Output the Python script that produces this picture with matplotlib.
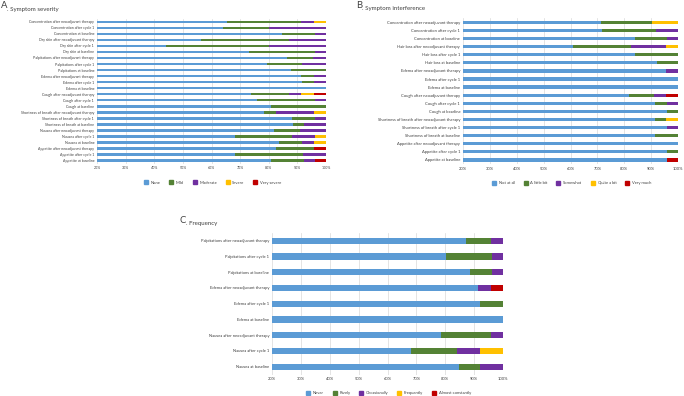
import matplotlib
matplotlib.use("Agg")
import matplotlib.pyplot as plt
from matplotlib.lines import Line2D
import numpy as np

plt.rcParams['font.family'] = ['Lato', 'DejaVu Sans']

# -----------------------------
# DATA (percent of patients per answer)
# -----------------------------
colors = ['#5B9BD5', '#548235', '#7030A0', '#FFC000', '#C00000']

sev_labels = [
    "Concentration after neoadjuvant therapy", "Concentration after cycle 1", "Concentration at baseline",
    "Dry skin after neoadjuvant therapy", "Dry skin after cycle 1", "Dry skin at baseline",
    "Palpitations after neoadjuvant therapy", "Palpitations after cycle 1", "Palpitations at baseline",
    "Edema after neoadjuvant therapy", "Edema after cycle 1", "Edema at baseline",
    "Cough after neoadjuvant therapy", "Cough after cycle 1", "Cough at baseline",
    "Shortness of breath after neoadjuvant therapy", "Shortness of breath after cycle 1",
    "Shortness of breath at baseline",
    "Nausea after neoadjuvant therapy", "Nausea after cycle 1", "Nausea at baseline",
    "Appetite after neoadjuvant therapy", "Appetite after cycle 1", "Appetite at baseline",
]
sev_cats = ["None", "Mild", "Moderate", "Severe", "Very severe"]
sev_none     = [65.3, 64.0, 84.7, 56.5, 44.1, 73.1, 86.5, 79.3, 87.7, 91.4, 91.6, 100, 73.8, 76.0, 80.7, 78.4, 88.1, 88.4, 81.9, 68.1, 83.5, 82.6, 68.1, 80.7]
sev_mild     = [26.0, 16.1, 11.6, 30.5, 36.0, 23.2, 9.1, 12.3, 12.3, 4.4, 4.2, 0, 13.2, 20.2, 19.3, 4.2, 8.1, 3.9, 9.0, 20.0, 8.1, 13.2, 24.0, 11.6]
sev_moderate = [4.5, 19.9, 3.7, 13.0, 19.9, 3.7, 4.4, 8.4, 0, 4.2, 4.2, 0, 4.4, 3.8, 0, 13.2, 3.8, 7.7, 9.1, 8.1, 4.2, 0, 7.9, 3.9]
sev_severe   = [4.2, 0, 0, 0, 0, 0, 0, 0, 0, 0, 0, 0, 4.4, 0, 0, 4.2, 0, 0, 0, 3.8, 4.2, 0, 0, 0]
sev_vsevere  = [0, 0, 0, 0, 0, 0, 0, 0, 0, 0, 0, 0, 4.2, 0, 0, 0, 0, 0, 0, 0, 0, 4.2, 0, 3.8]

int_labels = [
    "Concentration after neoadjuvant therapy", "Concentration after cycle 1", "Concentration at baseline",
    "Hair loss after neoadjuvant therapy", "Hair loss after cycle 1", "Hair loss at baseline",
    "Edema after neoadjuvant therapy", "Edema after cycle 1", "Edema at baseline",
    "Cough after neoadjuvant therapy", "Cough after cycle 1", "Cough at baseline",
    "Shortness of breath after neoadjuvant therapy", "Shortness of breath after cycle 1",
    "Shortness of breath at baseline",
    "Appetite after neoadjuvant therapy", "Appetite after cycle 1", "Appetite at baseline",
]
int_cats = ["Not at all", "A little bit", "Somewhat", "Quite a bit", "Very much"]
int_notatall = [71.3, 71.9, 83.9, 60.8, 83.9, 92.1, 95.4, 100, 100, 81.6, 91.6, 95.8, 91.3, 95.8, 91.3, 100, 95.8, 95.8]
int_little   = [19.0, 20.0, 12.1, 21.6, 16.1, 7.9, 0, 0, 0, 9.4, 4.2, 4.2, 4.2, 0, 8.7, 0, 4.2, 0]
int_somewhat = [0, 8.1, 4.0, 13.1, 0, 0, 4.6, 0, 0, 4.4, 4.2, 0, 0, 4.2, 0, 0, 0, 0]
int_quite    = [9.7, 0, 0, 4.5, 0, 0, 0, 0, 0, 0, 0, 0, 4.5, 0, 0, 0, 0, 0]
int_very     = [0, 0, 0, 0, 0, 0, 0, 0, 0, 4.6, 0, 0, 0, 0, 0, 0, 0, 4.2]

freq_labels = [
    "Palpitations after neoadjuvant therapy", "Palpitations after cycle 1", "Palpitations at baseline",
    "Edema after neoadjuvant therapy", "Edema after cycle 1", "Edema at baseline",
    "Nausea after neoadjuvant therapy", "Nausea after cycle 1", "Nausea at baseline",
]
freq_cats = ["Never", "Rarely", "Occasionally", "Frequently", "Almost constantly"]
freq_never  = [87.1, 80.1, 88.5, 91.4, 91.9, 100, 78.4, 68.0, 84.6]
freq_rarely = [8.6, 16.0, 7.8, 0, 8.1, 0, 17.3, 15.9, 7.6]
freq_occ    = [4.3, 3.9, 3.7, 4.3, 0, 0, 4.3, 8.1, 7.8]
freq_freq   = [0, 0, 0, 0, 0, 0, 0, 8.0, 0]
freq_almost = [0, 0, 0, 4.3, 0, 0, 0, 0, 0]

W, H = 684, 396
fig = plt.figure(figsize=(W / 100, H / 100), dpi=100)
txt = '#404040'


def px_axes(left, right, top, bottom):
    return fig.add_axes([left / W, 1 - bottom / H, (right - left) / W, (bottom - top) / H])


def stacked(ax, labels, series, cats, fs, legend_y):
    y = np.arange(len(labels))
    left = np.zeros(len(labels))
    for vals, c in zip(series, colors):
        vals = np.array(vals, dtype=float)
        ax.barh(y, vals, left=left, height=0.4, color=c, linewidth=0)
        left += vals
    ax.set_xlim(20, 100)
    ax.set_ylim(len(labels) - 0.5, -0.5)
    ax.set_yticks(y)
    ax.set_yticklabels(labels, fontsize=fs, color=txt)
    ticks = np.arange(20, 101, 10)
    ax.set_xticks(ticks)
    ax.set_xticklabels([f"{t}%" for t in ticks], fontsize=fs, color=txt)
    ax.tick_params(length=0, pad=2)
    ax.grid(axis='x', color='#D9D9D9', linewidth=0.5)
    ax.set_axisbelow(True)
    for s in ax.spines.values():
        s.set_visible(False)
    handles = [Line2D([], [], marker='s', linestyle='', color=c, markersize=2.2) for c in colors]
    pos = ax.get_position()
    ax.legend(handles, cats, loc='center', ncol=5, frameon=False,
              bbox_to_anchor=((pos.x0 + pos.x1) / 2, 1 - legend_y / H),
              bbox_transform=fig.transFigure, fontsize=3.0,
              handletextpad=0.1, columnspacing=1.6, labelcolor=txt)


def title(ax, x, y, letter, rest):
    # big panel letter followed by smaller title text
    t = fig.text(x / W, 1 - y / H, letter, fontsize=6.8, color=txt, va='baseline')
    ax.annotate(rest, xy=(1, 0), xycoords=t, fontsize=4.4, color=txt, va='baseline',
                annotation_clip=False)


# -----------------------------
# A. SYMPTOM SEVERITY
# -----------------------------
axA = px_axes(97, 326, 18.7, 163.7)
stacked(axA, sev_labels, [sev_none, sev_mild, sev_moderate, sev_severe, sev_vsevere],
        sev_cats, 2.6, 182.7)
title(axA, 1, 8.5, "A", ". Symptom severity")

# -----------------------------
# B. SYMPTOM INTERFERENCE
# -----------------------------
axB = px_axes(463, 678, 18.3, 164.0)
stacked(axB, int_labels, [int_notatall, int_little, int_somewhat, int_quite, int_very],
        int_cats, 2.95, 183.0)
title(axB, 356, 8, "B", ". Symptom interference")

# -----------------------------
# C. FREQUENCY
# -----------------------------
axC = px_axes(272, 503, 232.8, 374.6)
stacked(axC, freq_labels, [freq_never, freq_rarely, freq_occ, freq_freq, freq_almost],
        freq_cats, 2.95, 393.0)
title(axC, 180, 223, "C", ". Frequency")

fig.savefig("out.png", dpi=100)
